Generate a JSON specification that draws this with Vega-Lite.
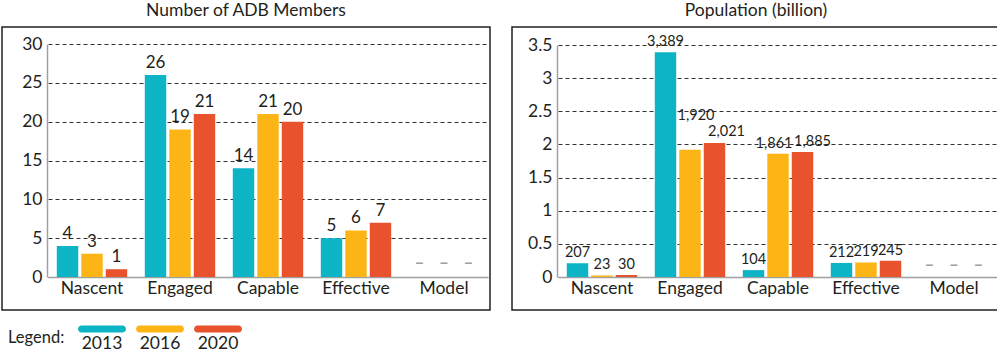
{
  "$schema": "https://vega.github.io/schema/vega-lite/v6.json",
  "padding": {"left": 1, "top": 0, "right": 0, "bottom": 0},
  "background": "white",
  "config": {
    "font": "Lato",
    "view": {"stroke": "#231F20", "strokeWidth": 1.5},
    "axis": {"labelColor": "#231F20", "labelFont": "Lato", "ticks": false, "domainColor": "#A0A0A0", "domainWidth": 1.5, "title": null},
    "title": {"fontSize": 17.5, "fontWeight": "normal", "color": "#231F20", "anchor": "middle", "baseline": "alphabetic", "offset": 8}
  },
  "datasets": {
    "members": [
      {"cat": "Nascent", "year": "2013", "v": 4, "label": "4"},
      {"cat": "Nascent", "year": "2016", "v": 3, "label": "3"},
      {"cat": "Nascent", "year": "2020", "v": 1, "label": "1"},
      {"cat": "Engaged", "year": "2013", "v": 26, "label": "26"},
      {"cat": "Engaged", "year": "2016", "v": 19, "label": "19"},
      {"cat": "Engaged", "year": "2020", "v": 21, "label": "21"},
      {"cat": "Capable", "year": "2013", "v": 14, "label": "14"},
      {"cat": "Capable", "year": "2016", "v": 21, "label": "21"},
      {"cat": "Capable", "year": "2020", "v": 20, "label": "20"},
      {"cat": "Effective", "year": "2013", "v": 5, "label": "5"},
      {"cat": "Effective", "year": "2016", "v": 6, "label": "6"},
      {"cat": "Effective", "year": "2020", "v": 7, "label": "7"},
      {"cat": "Model", "year": "2013", "v": 0, "label": "–"},
      {"cat": "Model", "year": "2016", "v": 0, "label": "–"},
      {"cat": "Model", "year": "2020", "v": 0, "label": "–"}
    ],
    "pop": [
      {"cat": "Nascent", "year": "2013", "v": 0.207, "label": "207"},
      {"cat": "Nascent", "year": "2016", "v": 0.023, "label": "23"},
      {"cat": "Nascent", "year": "2020", "v": 0.030, "label": "30"},
      {"cat": "Engaged", "year": "2013", "v": 3.389, "label": "3,389"},
      {"cat": "Engaged", "year": "2016", "v": 1.920, "label": "1,920"},
      {"cat": "Engaged", "year": "2020", "v": 2.021, "label": "2,021"},
      {"cat": "Capable", "year": "2013", "v": 0.104, "label": "104"},
      {"cat": "Capable", "year": "2016", "v": 1.861, "label": "1,861"},
      {"cat": "Capable", "year": "2020", "v": 1.885, "label": "1,885"},
      {"cat": "Effective", "year": "2013", "v": 0.212, "label": "212"},
      {"cat": "Effective", "year": "2016", "v": 0.219, "label": "219"},
      {"cat": "Effective", "year": "2020", "v": 0.245, "label": "245"},
      {"cat": "Model", "year": "2013", "v": 0, "label": "–"},
      {"cat": "Model", "year": "2016", "v": 0, "label": "–"},
      {"cat": "Model", "year": "2020", "v": 0, "label": "–"}
    ]
  },
  "spacing": 20,
  "hconcat": [
    {
      "width": 488,
      "height": 283,
      "title": {"text": "Number of ADB Members"},
      "data": {"name": "members"},
      "encoding": {
        "x": {"field": "cat", "type": "nominal", "sort": ["Nascent", "Engaged", "Capable", "Effective", "Model"],
              "scale": {"range": [46, 486], "paddingInner": 0.2, "paddingOuter": 0.1},
              "axis": {"offset": -33, "labelAngle": 0, "labelFontSize": 17.5, "labelPadding": 2}},
        "xOffset": {"field": "year", "type": "nominal", "scale": {"paddingInner": 0.125, "paddingOuter": 0}},
        "y": {"field": "v", "type": "quantitative", "scale": {"domain": [0, 30], "range": [250, 17]},
              "axis": {"offset": -45, "values": [0, 5, 10, 15, 20, 25, 30], "grid": true, "gridDash": [4, 3], "gridColor": "#333333", "gridWidth": 1, "labelFontSize": 17.5, "labelPadding": 5}}
      },
      "layer": [
        {
          "mark": {"type": "bar"},
          "encoding": {
            "color": {"field": "year", "type": "nominal",
              "scale": {"domain": ["2013", "2016", "2020"], "range": ["#0DB4C6", "#FDB515", "#E8522D"]},
              "legend": {"orient": "none", "legendX": 6, "legendY": 278, "direction": "horizontal",
                "title": ["Legend:", ""], "titleLineHeight": 6, "titleOrient": "left", "titleFontSize": 16.5, "titleFontWeight": "normal", "titleColor": "#231F20", "titlePadding": 13, "titleAnchor": "end", "titleBaseline": "bottom",
                "symbolType": "M-0.854,-0.146L0.854,-0.146A0.146,0.146 0 0 1 0.854,0.146L-0.854,0.146A0.146,0.146 0 0 1 -0.854,-0.146Z",
                "symbolSize": 2304, "symbolStrokeWidth": 0, "symbolOpacity": 1,
                "labelFontSize": 17.5, "labelColor": "#231F20", "labelAlign": "center", "labelOffset": -24, "labelBaseline": "alphabetic",
                "labelExpr": "['', datum.label]", "columnPadding": 10}
            }
          }
        },
        {
          "transform": [{"filter": "datum.cat !== 'Model'"}],
          "mark": {"type": "text", "baseline": "bottom", "dy": -3, "fontSize": 17},
          "encoding": {"text": {"field": "label"}, "color": {"value": "#231F20"}}
        },
        {
          "transform": [{"filter": "datum.cat === 'Model'"}],
          "mark": {"type": "text", "baseline": "bottom", "dy": -5, "fontSize": 17, "fontWeight": "bold"},
          "encoding": {"text": {"field": "label"}, "color": {"value": "#A0A0A0"}}
        }
      ]
    },
    {
      "width": 488,
      "height": 283,
      "title": {"text": "Population (billion)"},
      "data": {"name": "pop"},
      "encoding": {
        "x": {"field": "cat", "type": "nominal", "sort": ["Nascent", "Engaged", "Capable", "Effective", "Model"],
              "scale": {"range": [46, 486], "paddingInner": 0.2, "paddingOuter": 0.1},
              "axis": {"offset": -33, "labelAngle": 0, "labelFontSize": 17.5, "labelPadding": 2}},
        "xOffset": {"field": "year", "type": "nominal", "scale": {"paddingInner": 0.125, "paddingOuter": 0}},
        "y": {"field": "v", "type": "quantitative", "scale": {"domain": [0, 3.5], "range": [250, 18]},
              "axis": {"offset": -45, "values": [0, 0.5, 1, 1.5, 2, 2.5, 3, 3.5], "format": "~g", "grid": true, "gridDash": [4, 3], "gridColor": "#333333", "gridWidth": 1, "labelFontSize": 17.5, "labelPadding": 5}}
      },
      "layer": [
        {
          "mark": {"type": "bar"},
          "encoding": {
            "color": {"field": "year", "type": "nominal", "scale": {"domain": ["2013", "2016", "2020"], "range": ["#0DB4C6", "#FDB515", "#E8522D"]}}
          }
        },
        {
          "transform": [{"filter": "datum.cat !== 'Model' && datum.cat !== 'Capable' && datum.cat !== 'Engaged'"}],
          "mark": {"type": "text", "baseline": "bottom", "dy": -3, "fontSize": 14.5},
          "encoding": {"text": {"field": "label"}, "color": {"value": "#231F20"}}
        },
        {
          "transform": [{"filter": "(datum.cat === 'Engaged' && datum.year === '2013') || (datum.cat === 'Capable' && datum.year === '2013')"}],
          "mark": {"type": "text", "baseline": "bottom", "dy": -3, "fontSize": 14.5},
          "encoding": {"text": {"field": "label"}, "color": {"value": "#231F20"}}
        },
        {
          "transform": [{"filter": "datum.cat === 'Engaged' && datum.year === '2016'"}],
          "mark": {"type": "text", "baseline": "bottom", "dy": -27, "dx": 6, "fontSize": 14.5},
          "encoding": {"text": {"field": "label"}, "color": {"value": "#231F20"}}
        },
        {
          "transform": [{"filter": "datum.cat === 'Engaged' && datum.year === '2020'"}],
          "mark": {"type": "text", "baseline": "bottom", "dy": -4, "dx": 12, "fontSize": 14.5},
          "encoding": {"text": {"field": "label"}, "color": {"value": "#231F20"}}
        },
        {
          "transform": [{"filter": "datum.cat === 'Capable' && datum.year === '2016'"}],
          "mark": {"type": "text", "baseline": "bottom", "dy": -3, "dx": -4, "fontSize": 14.5},
          "encoding": {"text": {"field": "label"}, "color": {"value": "#231F20"}}
        },
        {
          "transform": [{"filter": "datum.cat === 'Capable' && datum.year === '2020'"}],
          "mark": {"type": "text", "baseline": "bottom", "dy": -3, "dx": 10, "fontSize": 14.5},
          "encoding": {"text": {"field": "label"}, "color": {"value": "#231F20"}}
        },
        {
          "transform": [{"filter": "datum.cat === 'Model'"}],
          "mark": {"type": "text", "baseline": "bottom", "dy": -3, "fontSize": 17, "fontWeight": "bold"},
          "encoding": {"text": {"field": "label"}, "color": {"value": "#A0A0A0"}}
        }
      ]
    }
  ]
}
